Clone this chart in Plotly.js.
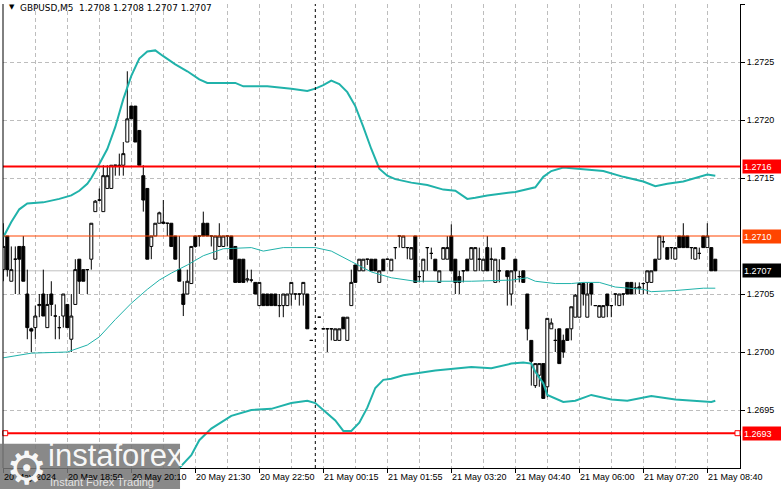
<!DOCTYPE html>
<html><head><meta charset="utf-8">
<script src="https://cdn.plot.ly/plotly-3.0.1.min.js"></script>
<style>html,body{margin:0;padding:0;background:#fff}#chart{width:781px;height:489px}</style>
</head><body><div id="chart"></div>
<script>
const openP=[1.27071,1.27100,1.27061,1.27080,1.27091,1.27091,1.27050,1.27020,1.27021,1.27040,
1.27050,1.27021,1.27050,1.27031,1.27021,1.27031,1.27041,1.27011,1.27041,1.27080,
1.27071,1.27071,1.27080,1.27121,1.27131,1.27121,1.27141,1.27141,1.27161,1.27160,
1.27161,1.27181,1.27212,1.27212,1.27191,1.27152,1.27141,1.27091,1.27100,1.27111,
1.27112,1.27111,1.27111,1.27100,1.27071,1.27050,1.27050,1.27059,1.27100,1.27100,
1.27111,1.27111,1.27100,1.27080,1.27091,1.27091,1.27100,1.27100,1.27091,1.27080,
1.27080,1.27062,1.27062,1.27060,1.27040,1.27050,1.27050,1.27050,1.27050,1.27040,
1.27040,1.27040,1.27050,1.27050,1.27050,1.27050,1.27050,1.27010,1.27020,1.27030,
1.27020,1.27020,1.27020,1.27010,1.27010,1.27030,1.27010,1.27040,1.27075,1.27070,
1.27070,1.27080,1.27080,1.27080,1.27060,1.27080,1.27080,1.27070,1.27090,1.27100,
1.27090,1.27090,1.27080,1.27100,1.27065,1.27070,1.27090,1.27085,1.27080,1.27060,
1.27080,1.27080,1.27100,1.27080,1.27065,1.27070,1.27080,1.27080,1.27070,1.27080,
1.27070,1.27090,1.27080,1.27060,1.27070,1.27090,1.27070,1.27050,1.27080,1.27065,
1.27070,1.27050,1.27010,1.26971,1.26980,1.26990,1.26970,1.27020,1.27010,1.27020,
1.27010,1.27020,1.27020,1.27030,1.27030,1.27059,1.27030,1.27059,1.27040,1.27030,
1.27030,1.27050,1.27040,1.27050,1.27040,1.27050,1.27060,1.27060,1.27055,1.27055,
1.27059,1.27060,1.27060,1.27080,1.27080,1.27095,1.27090,1.27090,1.27080,1.27100,
1.27100,1.27100,1.27090,1.27080,1.27085,1.27100,1.27090,1.27090,1.27080];
const highP=[1.27111,1.27100,1.27091,1.27091,1.27091,1.27100,1.27071,1.27021,1.27040,1.27050,
1.27071,1.27050,1.27061,1.27041,1.27031,1.27050,1.27041,1.27050,1.27080,1.27080,
1.27071,1.27071,1.27111,1.27131,1.27141,1.27161,1.27161,1.27161,1.27161,1.27171,
1.27181,1.27242,1.27212,1.27212,1.27191,1.27161,1.27141,1.27100,1.27111,1.27121,
1.27131,1.27111,1.27111,1.27100,1.27100,1.27061,1.27071,1.27091,1.27100,1.27100,
1.27121,1.27111,1.27100,1.27100,1.27111,1.27100,1.27100,1.27100,1.27091,1.27080,
1.27080,1.27071,1.27071,1.27060,1.27060,1.27050,1.27050,1.27050,1.27050,1.27050,
1.27050,1.27050,1.27060,1.27050,1.27050,1.27060,1.27050,1.27010,1.27020,1.27030,
1.27020,1.27020,1.27020,1.27020,1.27020,1.27030,1.27030,1.27071,1.27075,1.27080,
1.27080,1.27080,1.27080,1.27080,1.27070,1.27080,1.27080,1.27080,1.27090,1.27100,
1.27100,1.27090,1.27090,1.27100,1.27070,1.27080,1.27090,1.27090,1.27080,1.27070,
1.27090,1.27100,1.27110,1.27080,1.27070,1.27070,1.27080,1.27090,1.27090,1.27090,
1.27080,1.27100,1.27090,1.27080,1.27080,1.27090,1.27070,1.27070,1.27080,1.27070,
1.27070,1.27050,1.27010,1.26990,1.26990,1.26990,1.27029,1.27029,1.27020,1.27020,
1.27015,1.27020,1.27039,1.27050,1.27060,1.27060,1.27060,1.27060,1.27040,1.27040,
1.27040,1.27050,1.27040,1.27050,1.27050,1.27050,1.27060,1.27060,1.27060,1.27060,
1.27060,1.27070,1.27070,1.27080,1.27100,1.27100,1.27090,1.27090,1.27090,1.27100,
1.27111,1.27100,1.27090,1.27090,1.27090,1.27100,1.27111,1.27090,1.27080];
const lowP=[1.27061,1.27065,1.27061,1.27050,1.27050,1.27061,1.27011,1.27000,1.27011,1.27030,
1.27031,1.27021,1.27031,1.27011,1.27011,1.27021,1.27021,1.27000,1.27041,1.27050,
1.27061,1.27050,1.27071,1.27121,1.27130,1.27121,1.27141,1.27141,1.27152,1.27152,
1.27152,1.27181,1.27201,1.27181,1.27161,1.27121,1.27080,1.27080,1.27100,1.27111,
1.27111,1.27100,1.27091,1.27080,1.27061,1.27031,1.27050,1.27059,1.27090,1.27091,
1.27100,1.27100,1.27091,1.27080,1.27091,1.27091,1.27091,1.27080,1.27060,1.27060,
1.27060,1.27060,1.27060,1.27050,1.27040,1.27040,1.27040,1.27040,1.27040,1.27030,
1.27030,1.27040,1.27040,1.27045,1.27040,1.27040,1.27020,1.27010,1.27020,1.27030,
1.27020,1.27000,1.27010,1.27010,1.27010,1.27020,1.27010,1.27040,1.27060,1.27070,
1.27070,1.27075,1.27070,1.27070,1.27060,1.27070,1.27080,1.27070,1.27080,1.27090,
1.27090,1.27080,1.27080,1.27060,1.27060,1.27060,1.27070,1.27080,1.27070,1.27060,
1.27080,1.27080,1.27070,1.27050,1.27050,1.27060,1.27070,1.27080,1.27070,1.27070,
1.27070,1.27070,1.27070,1.27060,1.27060,1.27080,1.27040,1.27040,1.27060,1.27060,
1.27060,1.27010,1.26971,1.26969,1.26970,1.26960,1.26961,1.27020,1.27000,1.26990,
1.26995,1.27010,1.27010,1.27030,1.27030,1.27040,1.27030,1.27040,1.27040,1.27030,
1.27030,1.27030,1.27030,1.27040,1.27040,1.27040,1.27050,1.27050,1.27050,1.27050,
1.27050,1.27050,1.27060,1.27070,1.27080,1.27090,1.27080,1.27080,1.27080,1.27090,
1.27090,1.27090,1.27080,1.27080,1.27080,1.27090,1.27090,1.27070,1.27070];
const closeP=[1.27091,1.27071,1.27071,1.27080,1.27080,1.27061,1.27021,1.27018,1.27031,1.27041,
1.27031,1.27041,1.27041,1.27031,1.27021,1.27050,1.27021,1.27031,1.27071,1.27061,
1.27061,1.27071,1.27111,1.27130,1.27131,1.27152,1.27152,1.27161,1.27161,1.27161,
1.27171,1.27201,1.27201,1.27181,1.27161,1.27131,1.27080,1.27100,1.27111,1.27120,
1.27111,1.27111,1.27091,1.27080,1.27061,1.27041,1.27061,1.27091,1.27091,1.27100,
1.27100,1.27100,1.27100,1.27100,1.27100,1.27100,1.27100,1.27080,1.27060,1.27060,
1.27060,1.27063,1.27062,1.27050,1.27060,1.27040,1.27040,1.27040,1.27040,1.27040,
1.27050,1.27050,1.27060,1.27050,1.27050,1.27060,1.27020,1.27010,1.27020,1.27030,
1.27020,1.27020,1.27020,1.27020,1.27020,1.27020,1.27030,1.27060,1.27060,1.27080,
1.27080,1.27080,1.27070,1.27070,1.27070,1.27070,1.27080,1.27080,1.27090,1.27100,
1.27100,1.27090,1.27090,1.27060,1.27065,1.27080,1.27090,1.27085,1.27070,1.27070,
1.27090,1.27090,1.27070,1.27060,1.27060,1.27070,1.27070,1.27090,1.27090,1.27080,
1.27080,1.27070,1.27080,1.27080,1.27070,1.27080,1.27065,1.27070,1.27070,1.27065,
1.27060,1.27020,1.26992,1.26990,1.26990,1.26960,1.27029,1.27025,1.27010,1.26990,
1.27000,1.27010,1.27039,1.27049,1.27059,1.27050,1.27050,1.27050,1.27040,1.27040,
1.27040,1.27040,1.27040,1.27050,1.27050,1.27050,1.27050,1.27050,1.27055,1.27056,
1.27059,1.27070,1.27070,1.27070,1.27100,1.27095,1.27080,1.27090,1.27090,1.27090,
1.27090,1.27090,1.27090,1.27090,1.27085,1.27090,1.27100,1.27070,1.27070];

const upperIdx=[0,2,4,6,10,14,17,19,21,22,24,26,28,30,32,34,36,38,40,43,46,49,51,58,60,66,72,76,78,80,82,84,86,88,90,92,94,96,98,102,106,110,113,116,118,121,128,133,135,137,140,144,150,155,160,163,166,170,174,176,178];
const upperVal=[1.27099,1.27112,1.27123,1.27128,1.27129,1.27132,1.27135,1.27139,1.27145,1.27150,1.27162,1.27175,1.27194,1.27218,1.27238,1.27253,1.27259,1.27260,1.27255,1.27248,1.27242,1.27235,1.27232,1.27232,1.27229,1.27229,1.27227,1.27225,1.27227,1.27230,1.27234,1.27231,1.27224,1.27212,1.27194,1.27175,1.27158,1.27152,1.27149,1.27146,1.27144,1.27140,1.27139,1.27132,1.27133,1.27135,1.27138,1.27142,1.27151,1.27156,1.27159,1.27158,1.27156,1.27151,1.27147,1.27143,1.27145,1.27147,1.27151,1.27153,1.27152];
const midIdx=[0,7,16,21,24,28,32,36,39,42,46,50,55,62,65,70,78,82,87,92,97,103,108,117,127,131,133,138,142,145,149,153,160,162,168,175,178];
const midVal=[1.26995,1.26999,1.27000,1.27006,1.27013,1.27028,1.27042,1.27054,1.27062,1.27068,1.27075,1.27083,1.27089,1.27090,1.27087,1.27090,1.27090,1.27087,1.27078,1.27069,1.27064,1.27061,1.27061,1.27061,1.27062,1.27064,1.27061,1.27059,1.27059,1.27060,1.27060,1.27056,1.27054,1.27052,1.27053,1.27055,1.27055];
const lowerIdx=[0,10,20,30,38,43,44,47,49,52,57,62,67,72,76,78,80,83,85,87,89,91,93,95,97,100,108,117,122,127,130,132,133,135,136,138,140,143,147,152,156,162,168,177,178];
const lowerVal=[1.26891,1.26872,1.26863,1.26850,1.26855,1.26891,1.26900,1.26911,1.26924,1.26934,1.26945,1.26950,1.26951,1.26956,1.26958,1.26956,1.26950,1.26941,1.26932,1.26932,1.26939,1.26952,1.26969,1.26976,1.26977,1.26980,1.26984,1.26987,1.26986,1.26990,1.26991,1.26990,1.26983,1.26973,1.26963,1.26960,1.26957,1.26958,1.26963,1.26959,1.26958,1.26962,1.26959,1.26957,1.26958];

const timeTickBars=[0,16,32,48,64,80,96,112,128,144,160,176];
const timeTickLabels=["20 May 2024","20 May 18:50","20 May 20:10","20 May 21:30","20 May 22:50","21 May 00:15","21 May 01:55","21 May 03:20","21 May 04:40","21 May 06:00","21 May 07:20","21 May 08:40"];
const priceTicks=[1.2695,1.2700,1.2705,1.2715,1.2720,1.2725,1.2730];
const levelPrices=[1.2716,1.2710,1.2707,1.2693];
const levelLabels=["1.2716","1.2710","1.2707","1.2693"];
const daySeparatorBar=78;
const symbolTitle="GBPUSD,M5\u00a0\u00a01.2708\u00a01.2708\u00a01.2707\u00a01.2707";

const FONT='Liberation Sans, Arial, sans-serif';
const TEAL='#20b2aa';
const GRID='#bdbdbd';
const bars=openP.map((_,i)=>i);

const traces=[
 {type:'candlestick',x:bars,open:openP,high:highP,low:lowP,close:closeP,
  increasing:{line:{color:'#000',width:1},fillcolor:'#ffffff'},
  decreasing:{line:{color:'#000',width:1},fillcolor:'#000000'},
  whiskerwidth:0,hoverinfo:'skip',showlegend:false},
 {type:'scatter',mode:'lines',x:upperIdx,y:upperVal,line:{color:TEAL,width:2},hoverinfo:'skip',showlegend:false},
 {type:'scatter',mode:'lines',x:midIdx,y:midVal,line:{color:TEAL,width:1},hoverinfo:'skip',showlegend:false},
 {type:'scatter',mode:'lines',x:lowerIdx,y:lowerVal,line:{color:TEAL,width:2},hoverinfo:'skip',showlegend:false}
];

const levelStyles=[
 {color:'#ff0000',width:2,layer:'above',bg:'#ff0000',fg:'#ffffff'},
 {color:'#ff4500',width:1,layer:'above',bg:'#ff4500',fg:'#ffffff'},
 {color:'#c0c0c0',width:1,layer:'below',bg:'#000000',fg:'#ffffff'},
 {color:'#ff0000',width:2,layer:'above',bg:'#ff0000',fg:'#ffffff'}
];

const shapes=[];
levelPrices.forEach((p,k)=>{
  const s=levelStyles[k];
  shapes.push({type:'line',xref:'paper',x0:0,x1:1,yref:'y',y0:p,y1:p,line:{color:s.color,width:s.width},layer:s.layer});
});
[0.003,0.9966].forEach(ax=>{
  shapes.push({type:'rect',xref:'paper',xsizemode:'pixel',xanchor:ax,x0:-2.5,x1:2.5,
    yref:'y',ysizemode:'pixel',yanchor:levelPrices[3],y0:-2.5,y1:2.5,
    line:{color:'#ff0000',width:1},fillcolor:'#ffffff',layer:'above'});
});
shapes.push({type:'line',xref:'x',x0:daySeparatorBar,x1:daySeparatorBar,yref:'paper',y0:0,y1:1,line:{color:'#000',width:1,dash:'3px,3px'},layer:'above'});
shapes.push({type:'line',xref:'paper',x0:0,x1:0,yref:'paper',y0:0,y1:1,line:{color:'#000',width:1},layer:'above'});
shapes.push({type:'rect',xref:'paper',yref:'paper',x0:-0.0041,x1:0.2402,y0:-0.05,y1:0.052,fillcolor:'rgba(118,118,118,0.86)',line:{width:0},layer:'above'});

const annotations=[];
timeTickBars.forEach((b,k)=>{
  annotations.push({x:b,xref:'x',y:0,yref:'paper',yanchor:'top',xanchor:'left',yshift:-2,xshift:-1,
    text:timeTickLabels[k],showarrow:false,font:{family:FONT,size:9,color:'#000'}});
});
levelPrices.forEach((p,k)=>{
  const s=levelStyles[k];
  annotations.push({x:1,xref:'paper',xanchor:'left',xshift:2,y:p,yref:'y',yanchor:'middle',
    text:levelLabels[k],showarrow:false,bgcolor:s.bg,width:36,height:11,align:'left',borderpad:1,
    font:{family:FONT,size:9,color:s.fg}});
});
annotations.push({x:0.0055,xref:'paper',xanchor:'left',y:1,yref:'paper',yanchor:'top',yshift:3,
  text:'\u25bc',showarrow:false,font:{family:'DejaVu Sans',size:7,color:'#000'}});
annotations.push({x:0.0205,xref:'paper',xanchor:'left',y:1,yref:'paper',yanchor:'top',yshift:3,
  text:symbolTitle,showarrow:false,font:{family:'DejaVu Sans',size:8.9,color:'#000'}});
annotations.push({x:0.002,xref:'paper',xanchor:'left',y:0.0,yref:'paper',yanchor:'middle',
  text:'\u2699',showarrow:false,font:{family:'DejaVu Sans',size:46,color:'rgba(255,255,255,0.95)'}});
annotations.push({x:0.058,xref:'paper',xanchor:'left',y:0.026,yref:'paper',yanchor:'middle',
  text:'instaforex',showarrow:false,font:{family:'Liberation Sans',size:31,color:'rgba(255,255,255,0.95)'}});
annotations.push({x:0.061,xref:'paper',xanchor:'left',y:-0.03,yref:'paper',yanchor:'middle',
  text:'Instant Forex Trading',showarrow:false,font:{family:'Liberation Sans',size:11,color:'rgba(235,235,235,0.95)'}});

const layout={
  width:781,height:489,
  margin:{l:3,r:41,t:4,b:21,pad:0},
  paper_bgcolor:'#ffffff',plot_bgcolor:'#ffffff',
  showlegend:false,
  boxgap:0.25,boxgroupgap:0,
  xaxis:{range:[-0.075,184.175],tickmode:'linear',tick0:0,dtick:16,ticks:'outside',ticklen:4,tickcolor:'#000',
    showticklabels:false,showgrid:true,gridcolor:GRID,griddash:'4px,3px',gridwidth:1,
    minor:{tick0:0,dtick:8,showgrid:true,gridcolor:GRID,griddash:'4px,3px',ticks:''},
    showline:true,linecolor:'#000',linewidth:1,zeroline:false,rangeslider:{visible:false},fixedrange:true},
  yaxis:{side:'right',range:[1.2690,1.2730],tickmode:'array',tickvals:priceTicks,tickformat:'.4f',
    ticks:'outside',ticklen:4,tickcolor:'#000',tickfont:{family:FONT,size:9,color:'#000'},
    showgrid:true,gridcolor:GRID,griddash:'4px,3px',showline:true,linecolor:'#000',linewidth:1,zeroline:false,fixedrange:true},
  shapes:shapes,annotations:annotations
};
Plotly.newPlot('chart',traces,layout,{displayModeBar:false,staticPlot:true});
</script></body></html>
